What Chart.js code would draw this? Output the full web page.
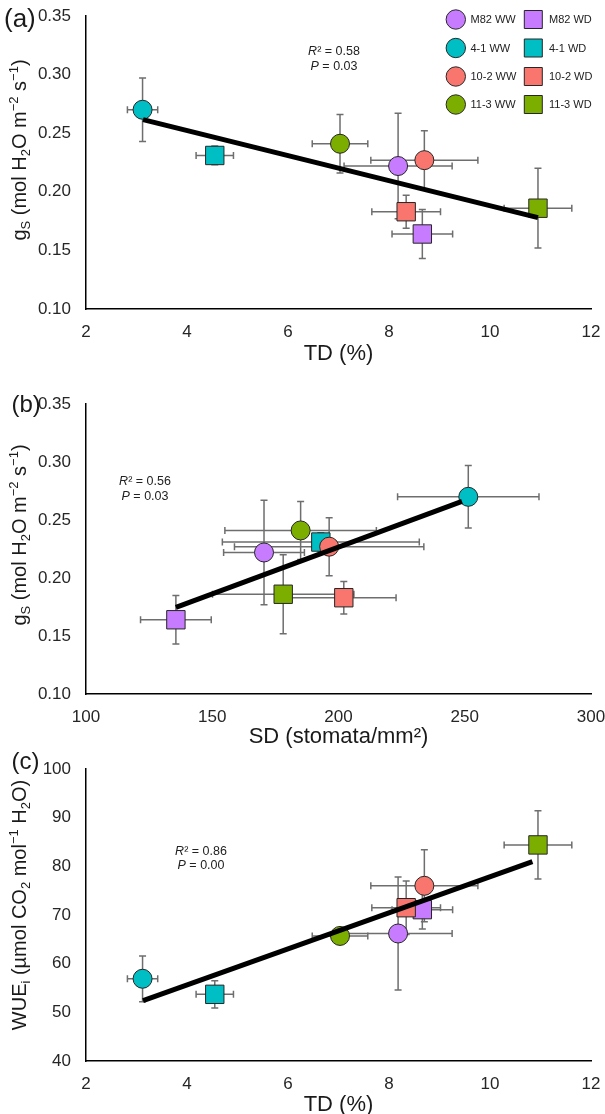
<!DOCTYPE html>
<html>
<head>
<meta charset="utf-8">
<script src="https://cdn.jsdelivr.net/npm/chart.js@4.4.1/dist/chart.umd.min.js"></script>
<style>
  html, body { margin: 0; padding: 0; background: #fff; }
  .panel { position: absolute; left: 0; width: 605px; }
</style>
</head>
<body>
<div class="panel" style="top:0;height:370px"><canvas id="chartA"></canvas></div>
<div class="panel" style="top:370px;height:382px"><canvas id="chartB"></canvas></div>
<div class="panel" style="top:742px;height:372px"><canvas id="chartC"></canvas></div>
<script>
  // groups, in the order of the legend (WW = circle, WD = square)
  const groups = ['M82 WW', 'M82 WD', '4-1 WW', '4-1 WD', '10-2 WW', '10-2 WD', '11-3 WW', '11-3 WD'];
  const groupColors = ['#C77CFF', '#C77CFF', '#00BFC4', '#00BFC4', '#F8766D', '#F8766D', '#7CAE00', '#7CAE00'];
  const groupShapes = ['circle', 'rect', 'circle', 'rect', 'circle', 'rect', 'circle', 'rect'];

  // trichome density (%)
  const tdMean = [8.18, 8.66, 3.12, 4.55, 8.70, 8.34, 7.03, 10.95];
  const tdErr = [1.07, 0.60, 0.30, 0.37, 1.06, 0.68, 0.55, 0.67];
  // stomatal density (stomata/mm2)
  const sdMean = [170.5, 135.6, 251.4, 193.0, 196.3, 202.1, 185.0, 178.1];
  const sdErr = [16, 14, 28, 39, 37.5, 20.7, 30, 28];
  // stomatal conductance
  const gsMean = [0.222, 0.164, 0.270, 0.231, 0.227, 0.183, 0.241, 0.186];
  const gsErr = [0.045, 0.021, 0.027, 0.008, 0.025, 0.014, 0.025, 0.034];
  // intrinsic water use efficiency
  const wueMean = [66.2, 71.1, 56.9, 53.7, 76.0, 71.5, 65.7, 84.4];
  const wueErr = [11.6, 4.0, 4.7, 2.8, 7.4, 5.5, 1.5, 7.0];

  // regression lines (end points)
  const fitAx = [3.13, 10.95], fitAy = [0.2616, 0.178];
  const fitBx = [135.6, 248.9], fitBy = [0.1747, 0.266];
  const fitCx = [3.13, 10.84], fitCy = [52.4, 80.95];

  // tick labels
  const tdTicks = [2, 4, 6, 8, 10, 12];
  const sdTicks = [100, 150, 200, 250, 300];
  const gsTicks = [0.10, 0.15, 0.20, 0.25, 0.30, 0.35];
  const wueTicks = [40, 50, 60, 70, 80, 90, 100];

  const FONT = "'Liberation Sans', Arial, sans-serif";

  // rich text: runs of [text, kind] with kind '', 'i', 'sub', 'sup'
  function drawRuns(ctx, runs, x, y, size, align) {
    let w = 0;
    const parts = runs.map(([t, k]) => {
      const s = (k === 'sub' || k === 'sup') ? size * 0.65 : size;
      const f = (k === 'i' ? 'italic ' : '') + s + 'px ' + FONT;
      ctx.font = f;
      const m = ctx.measureText(t).width;
      w += m;
      return { t, f, m, dy: k === 'sub' ? size * 0.22 : k === 'sup' ? -size * 0.4 : 0 };
    });
    let cx = align === 'center' ? x - w / 2 : x;
    ctx.textAlign = 'left';
    ctx.textBaseline = 'alphabetic';
    parts.forEach(p => {
      ctx.font = p.f;
      ctx.fillText(p.t, cx, y + p.dy);
      cx += p.m;
    });
  }

  const errorBars = {
    id: 'errorBars',
    beforeDatasetsDraw(chart) {
      const { ctx, scales: { x, y } } = chart;
      ctx.save();
      ctx.strokeStyle = '#6e6e6e';
      ctx.lineWidth = 1.5;
      chart.data.datasets.forEach(ds => {
        if (!ds.err) return;
        const p = ds.data[0];
        const px = x.getPixelForValue(p.x), py = y.getPixelForValue(p.y);
        const x0 = x.getPixelForValue(p.x - ds.err.x), x1 = x.getPixelForValue(p.x + ds.err.x);
        const y0 = y.getPixelForValue(p.y - ds.err.y), y1 = y.getPixelForValue(p.y + ds.err.y);
        const c = 3.5;
        ctx.beginPath();
        ctx.moveTo(x0, py); ctx.lineTo(x1, py);
        ctx.moveTo(x0, py - c); ctx.lineTo(x0, py + c);
        ctx.moveTo(x1, py - c); ctx.lineTo(x1, py + c);
        ctx.moveTo(px, y0); ctx.lineTo(px, y1);
        ctx.moveTo(px - c, y0); ctx.lineTo(px + c, y0);
        ctx.moveTo(px - c, y1); ctx.lineTo(px + c, y1);
        ctx.stroke();
      });
      ctx.restore();
    }
  };

  function textPlugin(p) {
    return {
      id: 'texts',
      afterDraw(chart) {
        const ctx = chart.ctx;
        const area = chart.chartArea;
        ctx.save();
        ctx.fillStyle = '#1a1a1a';
        // panel letter
        ctx.font = p.letterSize + 'px ' + FONT;
        ctx.textAlign = 'left';
        ctx.textBaseline = 'middle';
        ctx.fillText(p.letter, p.letterX, p.letterY);
        // x title
        drawRuns(ctx, p.xTitle, (area.left + area.right) / 2, p.xTitleY + 22 * 0.36, 22, 'center');
        // y title (rotated)
        ctx.save();
        ctx.translate(26, p.yTitleY);
        ctx.rotate(-Math.PI / 2);
        drawRuns(ctx, p.yTitle, 0, 0, 20, 'center');
        ctx.restore();
        // statistics
        ctx.fillStyle = '#222';
        drawRuns(ctx, [['R', 'i'], ['\u00B2 = ' + p.r2, '']], p.statX, p.statY + 4.5, 12.5, 'center');
        drawRuns(ctx, [['P', 'i'], [' = ' + p.pval, '']], p.statX, p.statY + 14.5 + 4.5, 12.5, 'center');
        ctx.restore();
      }
    };
  }

  const legendPlugin = {
    id: 'gridLegend',
    afterDraw(chart) {
      const ctx = chart.ctx;
      const rowY = [19.5, 48, 76.5, 104.5];
      ctx.save();
      ctx.font = '11px ' + FONT;
      ctx.textBaseline = 'middle';
      ctx.textAlign = 'left';
      ctx.lineWidth = 1;
      ctx.strokeStyle = '#262626';
      rowY.forEach((yy, r) => {
        const ww = 2 * r, wd = 2 * r + 1;
        ctx.fillStyle = groupColors[ww];
        ctx.beginPath();
        ctx.arc(455.8, yy, 9.7, 0, Math.PI * 2);
        ctx.fill(); ctx.stroke();
        ctx.fillStyle = groupColors[wd];
        ctx.beginPath();
        ctx.rect(533.3 - 9, yy - 9, 18, 18);
        ctx.fill(); ctx.stroke();
        ctx.fillStyle = '#222';
        ctx.fillText(groups[ww], 470.5, yy + 0.5);
        ctx.fillText(groups[wd], 549, yy + 0.5);
      });
      ctx.restore();
    }
  };

  function makeChart(id, c) {
    const datasets = groups.map((g, i) => ({
      type: 'scatter',
      label: g,
      data: [{ x: c.xs[i], y: c.ys[i] }],
      err: { x: c.xe[i], y: c.ye[i] },
      pointStyle: groupShapes[i],
      pointRadius: groupShapes[i] === 'rect' ? 13 : 9.5,
      backgroundColor: groupColors[i],
      borderColor: '#262626',
      borderWidth: 1,
      order: groups.length - i
    }));
    datasets.push({
      type: 'line',
      label: 'fit',
      data: c.fx.map((x, k) => ({ x, y: c.fy[k] })),
      borderColor: '#000',
      borderWidth: 5,
      pointRadius: 0,
      fill: false,
      order: 0
    });
    const plugins = [errorBars, textPlugin(c.text)];
    if (c.legend) plugins.push(legendPlugin);
    return new Chart(document.getElementById(id), {
      type: 'scatter',
      data: { datasets },
      plugins,
      options: {
        responsive: true,
        maintainAspectRatio: false,
        animation: false,
        events: [],
        layout: { padding: { top: c.padTop, right: 13, bottom: 0, left: 0 } },
        plugins: { legend: { display: false }, tooltip: { enabled: false } },
        scales: {
          x: {
            type: 'linear',
            min: c.xTicks[0],
            max: c.xTicks[c.xTicks.length - 1],
            grid: { display: false },
            border: { display: true, color: '#000', width: 1.5 },
            ticks: { font: { family: FONT, size: 17 }, color: '#262626', padding: 5, callback: v => String(v) },
            afterBuildTicks: s => { s.ticks = c.xTicks.map(v => ({ value: v })); },
            afterFit: s => { s.height = c.xAxisH; s.paddingLeft = 0; s.paddingRight = 0; }
          },
          y: {
            type: 'linear',
            min: c.yTicks[0],
            max: c.yTicks[c.yTicks.length - 1],
            grid: { display: false },
            border: { display: true, color: '#000', width: 1.5 },
            ticks: { font: { family: FONT, size: 17 }, color: '#262626', padding: 7, callback: c.yFmt },
            afterBuildTicks: s => { s.ticks = c.yTicks.map(v => ({ value: v })); },
            afterFit: s => { s.width = 86; s.paddingTop = 0; s.paddingBottom = 0; }
          }
        }
      }
    });
  }

  const gsTitle = [['g', ''], ['S', 'sub'], [' (mol H', ''], ['2', 'sub'], ['O m', ''], ['\u22122', 'sup'], [' s', ''], ['\u22121', 'sup'], [')', '']];
  const wueTitle = [['WUE', ''], ['i', 'sub'], [' (\u00B5mol CO', ''], ['2', 'sub'], [' mol', ''], ['\u22121', 'sup'], [' H', ''], ['2', 'sub'], ['O)', '']];

  // (a) gs vs TD
  makeChart('chartA', {
    xs: tdMean, ys: gsMean, xe: tdErr, ye: gsErr, fx: fitAx, fy: fitAy,
    xTicks: tdTicks, yTicks: gsTicks, yFmt: v => v.toFixed(2),
    padTop: 16, xAxisH: 61, legend: true,
    text: { letter: '(a)', letterSize: 26, letterX: 4, letterY: 20, xTitle: [['TD (%)', '']], xTitleY: 351.7,
            yTitle: gsTitle, yTitleY: 150, r2: '0.58', pval: '0.03', statX: 334, statY: 50.7 }
  });

  // (b) gs vs SD
  makeChart('chartB', {
    xs: sdMean, ys: gsMean, xe: sdErr, ye: gsErr, fx: fitBx, fy: fitBy,
    xTicks: sdTicks, yTicks: gsTicks, yFmt: v => v.toFixed(2),
    padTop: 34, xAxisH: 58, legend: false,
    text: { letter: '(b)', letterSize: 24, letterX: 11.5, letterY: 35, xTitle: [['SD (stomata/mm\u00B2)', '']], xTitleY: 365,
            yTitle: gsTitle, yTitleY: 165, r2: '0.56', pval: '0.03', statX: 145, statY: 110.7 }
  });

  // (c) WUEi vs TD
  makeChart('chartC', {
    xs: tdMean, ys: wueMean, xe: tdErr, ye: wueErr, fx: fitCx, fy: fitCy,
    xTicks: tdTicks, yTicks: wueTicks, yFmt: v => String(v),
    padTop: 27, xAxisH: 53, legend: false,
    text: { letter: '(c)', letterSize: 24, letterX: 11.5, letterY: 20, xTitle: [['TD (%)', '']], xTitleY: 361,
            yTitle: wueTitle, yTitleY: 163, r2: '0.86', pval: '0.00', statX: 201, statY: 108 }
  });
</script>
</body>
</html>
